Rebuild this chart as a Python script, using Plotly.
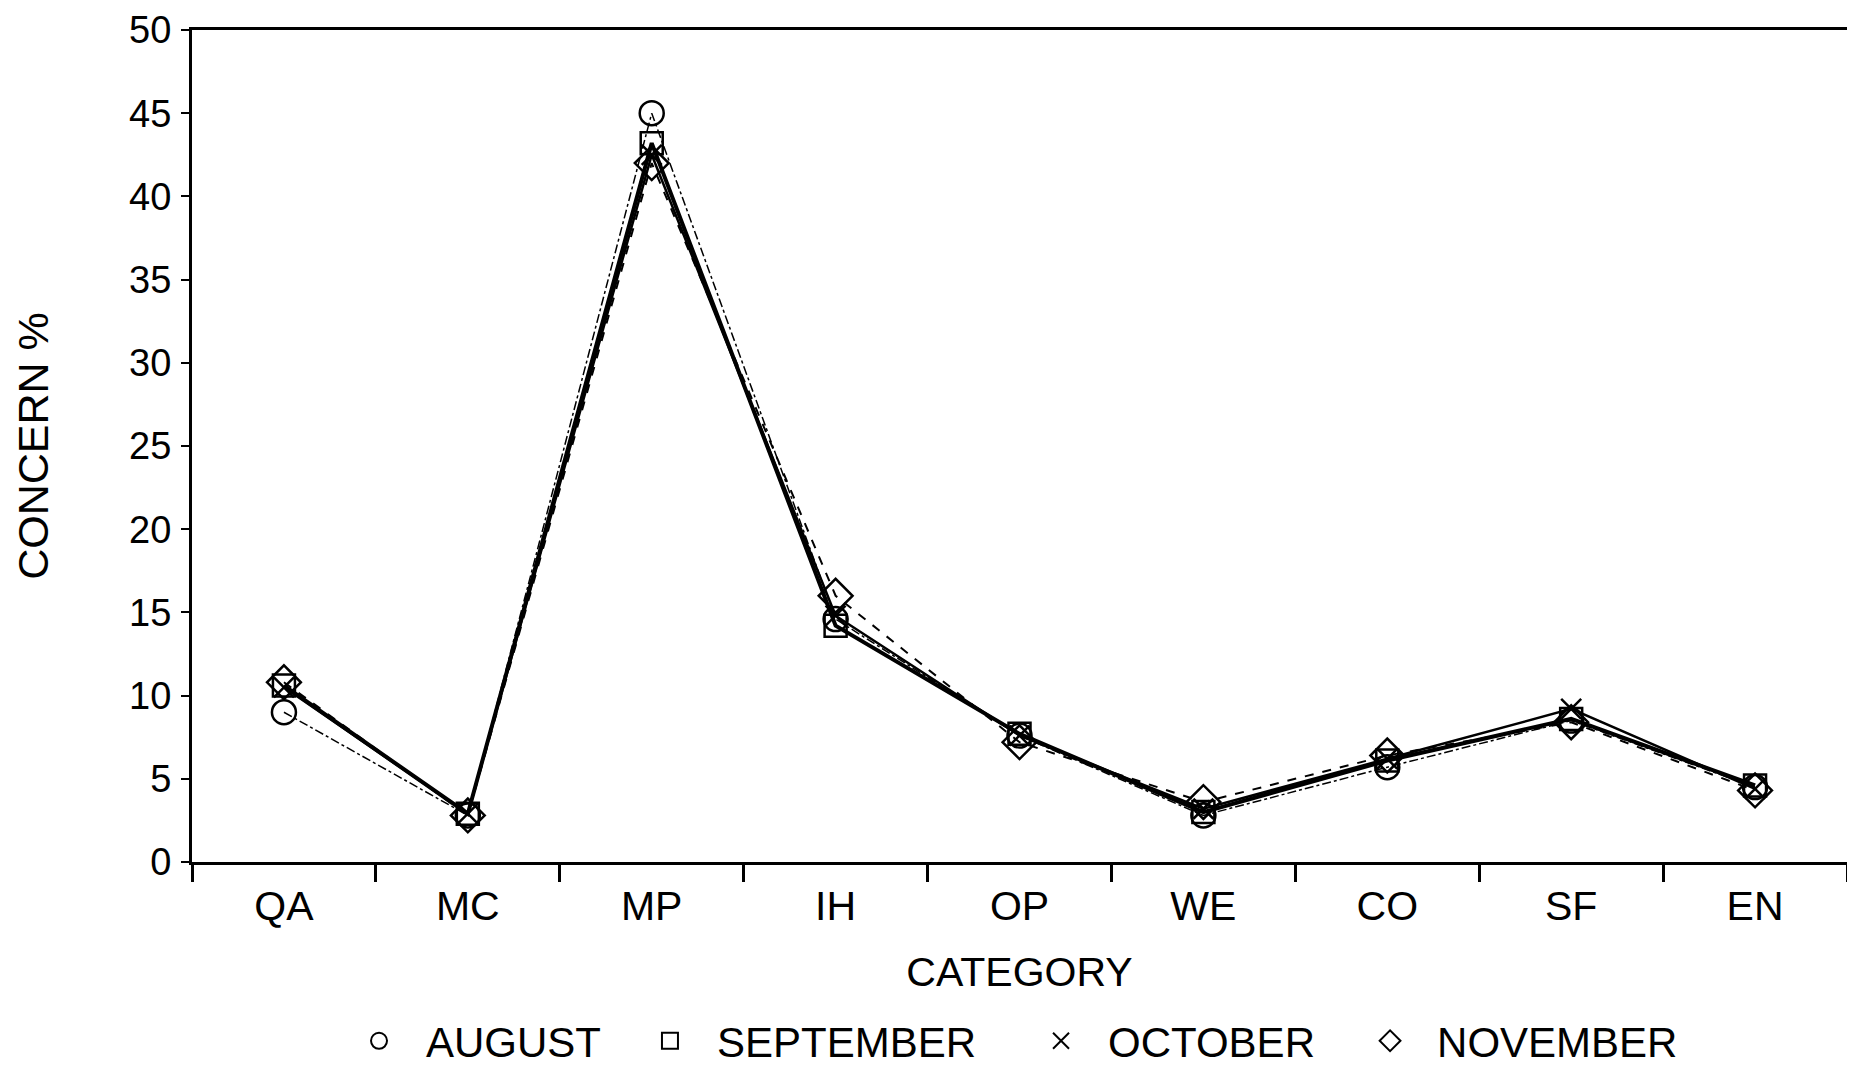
import plotly.graph_objects as go

categories = ["QA", "MC", "MP", "IH", "OP", "WE", "CO", "SF", "EN"]
august = [9.0, 2.8, 45.0, 14.6, 7.6, 2.8, 5.7, 8.5, 4.5]
september = [10.6, 2.9, 43.2, 14.2, 7.7, 3.0, 6.1, 8.6, 4.6]
october = [10.5, 2.9, 42.5, 14.8, 7.6, 3.2, 6.2, 9.2, 4.4]
november = [10.8, 2.8, 42.0, 16.0, 7.2, 3.6, 6.4, 8.4, 4.3]
y_ticks = [0, 5, 10, 15, 20, 25, 30, 35, 40, 45, 50]

series = [
    ("AUGUST", august, "circle-open", 24, dict(width=1.5, dash="dashdot")),
    ("SEPTEMBER", september, "square-open", 22, dict(width=4, dash="solid")),
    ("OCTOBER", october, "x-thin-open", 20, dict(width=2.5, dash="solid")),
    ("NOVEMBER", november, "diamond-open", 26, dict(width=2, dash="dash")),
]
legend_x = [0.0846, 0.2604, 0.4967, 0.6955]

FONT = "Liberation Sans, Arial, sans-serif"

fig = go.Figure()
for name, vals, sym, size, line in series:
    fig.add_trace(go.Scatter(
        x=categories, y=vals, mode="lines+markers", name=name,
        line=dict(color="black", **line),
        marker=dict(symbol=sym, size=size, color="black",
                    line=dict(color="black", width=2.5)),
        showlegend=False,
    ))

legend_layout = {}
for i, (name, vals, sym, size, line) in enumerate(series):
    key = "legend" if i == 0 else f"legend{i + 1}"
    fig.add_trace(go.Scatter(
        x=[None], y=[None], mode="markers", name=name,
        marker=dict(symbol=sym, size=size, color="black",
                    line=dict(color="black", width=2)),
        showlegend=True, legend=key,
    ))
    legend_layout[key] = dict(
        orientation="h", x=legend_x[i], xanchor="left",
        yref="container", y=0.0255, yanchor="middle",
        font=dict(size=42, family=FONT), itemwidth=84,
        bgcolor="rgba(0,0,0,0)",
    )

# page body has an 8px default margin, so the figure is sized to fit the window
fig.update_layout(
    width=1847, height=1060,
    margin=dict(l=184, r=8, t=22, b=206),
    paper_bgcolor="white", plot_bgcolor="white",
    font=dict(family=FONT, color="black", size=40),
    **legend_layout,
)
fig.update_xaxes(
    type="category", categoryorder="array", categoryarray=categories,
    range=[-0.5, len(categories) - 0.5], automargin=False,
    showline=True, linecolor="black", linewidth=3, mirror=True,
    ticks="outside", tickson="boundaries", ticklen=17, tickwidth=2.5, tickcolor="black",
    showgrid=False, zeroline=False,
    tickfont=dict(size=41, family=FONT), ticklabelstandoff=6,
    title=dict(text="CATEGORY", font=dict(size=41, family=FONT), standoff=30),
)
fig.update_yaxes(
    range=[0, 50], tickvals=y_ticks, ticktext=[str(v) for v in y_ticks],
    automargin=False,
    showline=True, linecolor="black", linewidth=3, mirror=True,
    ticks="outside", ticklen=8, tickwidth=2, tickcolor="black",
    showgrid=False, zeroline=False,
    tickfont=dict(size=38, family=FONT), ticklabelstandoff=2,
    title=dict(text="CONCERN %", font=dict(size=43, family=FONT), standoff=68),
)

fig.write_html("out.html")
